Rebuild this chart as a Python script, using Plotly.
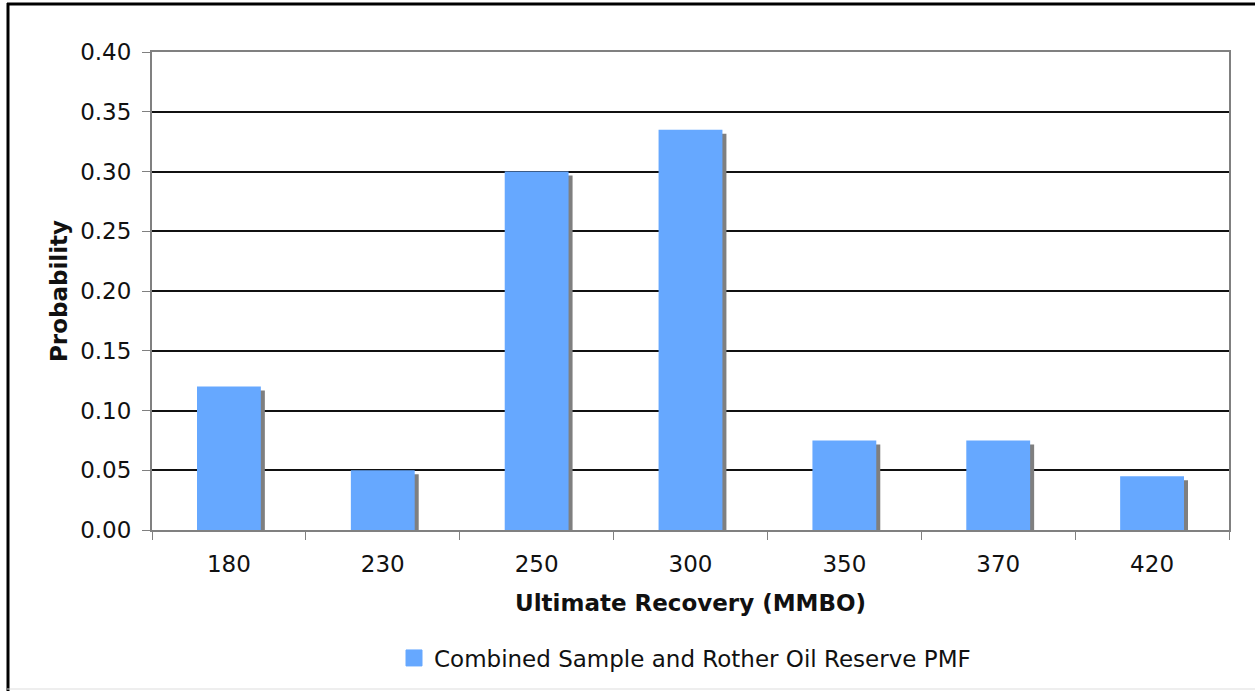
import plotly.graph_objects as go

# Ultimate recovery classes (MMBO) and their probabilities
recovery = ["180", "230", "250", "300", "350", "370", "420"]
probability = [0.12, 0.05, 0.30, 0.335, 0.075, 0.075, 0.045]
series_name = "Combined Sample and Rother Oil Reserve PMF"
y_ticks = [0.00, 0.05, 0.10, 0.15, 0.20, 0.25, 0.30, 0.35, 0.40]

W, H = 1255, 691
L, R, T, B = 152, 26, 52, 161
plot_w = W - L - R
plot_h = H - T - B

BAR_W = 0.415                            # bar width in category units
SHADOW_DX = 4 / plot_w * len(recovery)   # 4 px to the right
SHADOW_DY = 4 / plot_h * 0.40            # 4 px down

FONT = "DejaVu Sans"
FS = 23
INK = "#111111"
AXIS_GREY = "#808080"
BAR_BLUE = "#66a8ff"


def py(px):
    """Page pixel row -> paper y coordinate."""
    return (T + plot_h - px) / plot_h


def px_(px):
    """Page pixel column -> paper x coordinate."""
    return (px - L) / plot_w


fig = go.Figure()

# drop shadow behind each bar
fig.add_trace(go.Bar(
    x=recovery,
    y=[p - SHADOW_DY for p in probability],
    width=BAR_W,
    offset=-BAR_W / 2 + SHADOW_DX,
    marker=dict(color="#7f7f7f", line=dict(width=0)),
    showlegend=False,
    hoverinfo="skip",
))

fig.add_trace(go.Bar(
    x=recovery,
    y=probability,
    width=BAR_W,
    offset=-BAR_W / 2,
    name=series_name,
    marker=dict(color=BAR_BLUE, line=dict(width=0)),
    showlegend=False,
))

# legend entry with a larger square swatch
fig.add_trace(go.Scatter(
    x=[None], y=[None],
    mode="markers",
    name=series_name,
    marker=dict(symbol="square", size=16, color=BAR_BLUE,
                line=dict(color=BAR_BLUE, width=1)),
    hoverinfo="skip",
))

fig.update_layout(
    width=W, height=H,
    margin=dict(l=L, r=R, t=T, b=B),
    paper_bgcolor="white",
    plot_bgcolor="white",
    barmode="overlay",
    font=dict(family=FONT, size=FS, color=INK),
    showlegend=True,
    legend=dict(
        orientation="h",
        x=px_(394), xanchor="left",
        y=py(658), yanchor="middle",
        font=dict(family=FONT, size=FS, color=INK),
        bgcolor="rgba(0,0,0,0)",
        itemsizing="trace",
    ),
    xaxis=dict(
        type="category",
        showgrid=False,
        showline=True, linecolor=AXIS_GREY, linewidth=2,
        mirror=True,
        ticks="outside", ticklen=8, tickcolor=AXIS_GREY, tickwidth=1,
        tickson="boundaries",
        tickfont=dict(family=FONT, size=FS, color=INK),
        ticklabelstandoff=12,
    ),
    yaxis=dict(
        range=[0, 0.40],
        tickvals=y_ticks,
        tickformat=".2f",
        showgrid=True, gridcolor=INK, gridwidth=2,
        zeroline=False,
        showline=True, linecolor=AXIS_GREY, linewidth=2,
        mirror=True,
        ticks="outside", ticklen=8, tickcolor=AXIS_GREY, tickwidth=1,
        tickfont=dict(family=FONT, size=FS, color=INK),
        ticklabelstandoff=6,
    ),
    annotations=[
        dict(text="<b>Ultimate Recovery (MMBO)</b>", xref="paper", yref="paper",
             x=0.5, y=py(603),
             xanchor="center", yanchor="middle", showarrow=False,
             font=dict(family=FONT, size=FS, color=INK)),
        dict(text="<b>Probability</b>", xref="paper", yref="paper",
             x=px_(59), y=0.5,
             xanchor="center", yanchor="middle", showarrow=False, textangle=-90,
             font=dict(family=FONT, size=FS, color=INK)),
    ],
    shapes=[
        # page frame: heavy top and left rules, faint bottom rule
        dict(type="line", xref="paper", yref="paper",
             x0=px_(7), x1=px_(W), y0=py(4), y1=py(4),
             line=dict(color="black", width=3)),
        dict(type="line", xref="paper", yref="paper",
             x0=px_(8), x1=px_(8), y0=py(3), y1=py(H),
             line=dict(color="black", width=3)),
        dict(type="line", xref="paper", yref="paper",
             x0=px_(7), x1=px_(W), y0=py(689), y1=py(689),
             line=dict(color="#dddddd", width=1)),
    ],
)

fig.write_html("out.html")
